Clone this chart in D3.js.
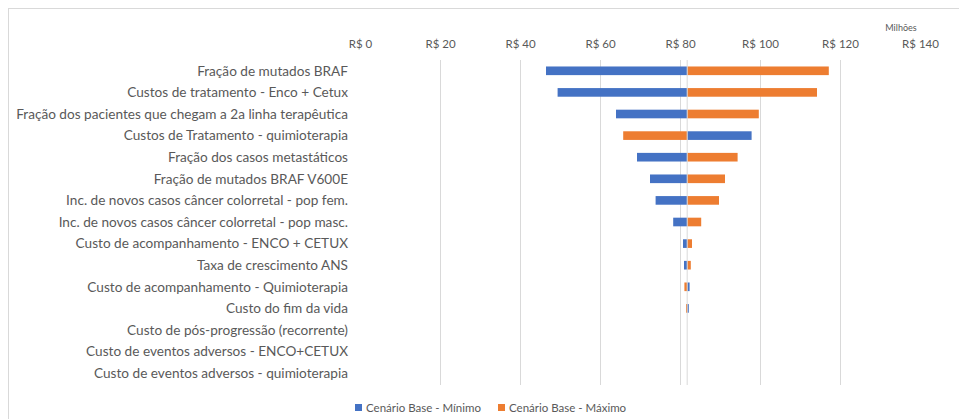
<!DOCTYPE html>
<html>
<head>
<meta charset="utf-8">
<script src="https://cdn.jsdelivr.net/npm/d3@7"></script>
<style>
  html, body { margin: 0; padding: 0; background: #fff; }
  svg { display: block; font-family: Lato, "Open Sans", sans-serif; }
</style>
</head>
<body>
<svg id="chart" width="959" height="419"></svg>
<script>
// Parâmetros da análise de sensibilidade (de cima para baixo)
const categories = [
  "Fração de mutados BRAF",
  "Custos de tratamento - Enco + Cetux",
  "Fração dos pacientes que chegam a 2a linha terapêutica",
  "Custos de Tratamento - quimioterapia",
  "Fração dos casos metastáticos",
  "Fração de mutados BRAF V600E",
  "Inc. de novos casos câncer colorretal - pop fem.",
  "Inc. de novos casos câncer colorretal - pop masc.",
  "Custo de acompanhamento - ENCO + CETUX",
  "Taxa de crescimento ANS",
  "Custo de acompanhamento - Quimioterapia",
  "Custo do fim da vida",
  "Custo de pós-progressão (recorrente)",
  "Custo de eventos adversos - ENCO+CETUX",
  "Custo de eventos adversos - quimioterapia"
];

// Impacto orçamentário (R$ milhões)
const baseValue = 81.8;
const minimo = [46.5, 49.4, 64.0, 97.9, 69.25, 72.5, 73.9, 78.3, 80.75, 81.0, 82.4, 82.2, 81.8, 81.8, 81.8];
const maximo = [117.2, 114.25, 99.7, 65.8, 94.4, 91.25, 89.75, 85.3, 83.0, 82.7, 81.1, 81.5, 81.8, 81.8, 81.8];

const tickValues = [0, 20, 40, 60, 80, 100, 120, 140];
const gridValues = [20, 40, 60, 80, 100, 120];
const seriesNames = ["Cenário Base - Mínimo", "Cenário Base - Máximo"];
const colors = ["#4472C4", "#ED7D31"];

const svg = d3.select("#chart");
const textColor = "#595959";
const gridColor = "#d9d9d9";

// Moldura da área do gráfico
svg.append("rect")
  .attr("x", 8.5).attr("y", 8.5)
  .attr("width", 960).attr("height", 420)
  .attr("fill", "#fff").attr("stroke", gridColor).attr("stroke-width", 1);

const x = d3.scaleLinear().domain([0, 140]).range([360, 920]);
const y = d3.scaleBand().domain(categories).range([60, 384]).paddingInner(0.6).paddingOuter(0.3);

// Linhas de grade verticais
svg.append("g").selectAll("line")
  .data(gridValues)
  .join("line")
  .attr("x1", d => Math.round(x(d)) + 0.5).attr("x2", d => Math.round(x(d)) + 0.5)
  .attr("y1", 60).attr("y2", 385)
  .attr("stroke", gridColor).attr("stroke-width", 1);

// Eixo superior com rótulos em reais
const fmt = d => "R$ " + d;
const axisTop = d3.axisTop(x).tickValues(tickValues).tickFormat(fmt).tickSize(0).tickPadding(0);
const ax = svg.append("g").attr("transform", "translate(0,48)").call(axisTop);
ax.select(".domain").remove();
ax.selectAll("text")
  .attr("fill", textColor)
  .style("font-family", "Lato, sans-serif")
  .style("font-size", "11.5px");

svg.append("text")
  .attr("x", 901).attr("y", 31)
  .attr("text-anchor", "middle")
  .attr("fill", textColor)
  .style("font-size", "9px")
  .text("Milhões");

// Barras: cada série parte do valor do cenário base
const bh = y.bandwidth();
const barData = [];
categories.forEach((c, i) => {
  barData.push({ cat: c, v: minimo[i], s: 0 });
  barData.push({ cat: c, v: maximo[i], s: 1 });
});
svg.append("g").selectAll("rect")
  .data(barData.filter(d => d.v !== baseValue))
  .join("rect")
  .attr("x", d => Math.min(x(d.v), x(baseValue)))
  .attr("width", d => Math.abs(x(d.v) - x(baseValue)))
  .attr("y", d => y(d.cat))
  .attr("height", bh)
  .attr("fill", d => colors[d.s]);

// Eixo vertical no valor base
svg.append("line")
  .attr("x1", x(baseValue)).attr("x2", x(baseValue))
  .attr("y1", 60).attr("y2", 385)
  .attr("stroke", gridColor).attr("stroke-width", 1);

// Rótulos das categorias
const labels = svg.append("g").selectAll("text")
  .data(categories)
  .join("text")
  .attr("x", 348)
  .attr("y", d => y(d) + bh / 2)
  .attr("dy", "0.35em")
  .attr("text-anchor", "end")
  .attr("fill", textColor)
  .style("font-size", "13px")
  .text(d => d);

// Ajusta o corpo da fonte para que o rótulo mais longo ocupe a largura disponível
let maxW = 0;
labels.each(function () { maxW = Math.max(maxW, this.getComputedTextLength()); });
const fs = 13 * 332 / maxW;
labels.style("font-size", fs.toFixed(2) + "px");

// Legenda
const legend = svg.append("g");
const legendX = [355, 498];
seriesNames.forEach((name, i) => {
  legend.append("rect")
    .attr("x", legendX[i]).attr("y", 404)
    .attr("width", 7).attr("height", 7)
    .attr("fill", colors[i]);
  legend.append("text")
    .attr("x", legendX[i] + 11).attr("y", 408)
    .attr("dy", "0.35em")
    .attr("fill", textColor)
    .style("font-size", "11.5px")
    .text(name);
});
</script>
</body>
</html>
